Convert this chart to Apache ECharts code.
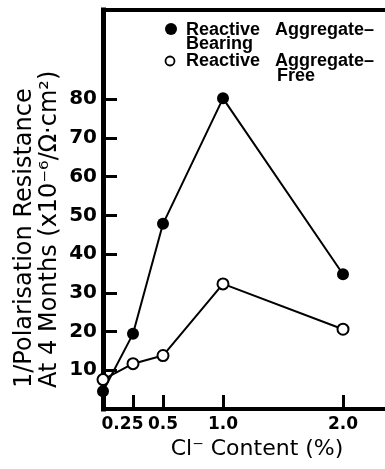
<!DOCTYPE html>
<html>
<head>
<meta charset="utf-8">
<script src="https://cdn.jsdelivr.net/npm/echarts@6.0.0/dist/echarts.min.js"></script>
<style>
    html, body { margin: 0; padding: 0; background: #fff; }
    #chart { width: 385px; height: 469px; }
</style>
</head>
<body>
<div id="chart"></div>
<script>
    // Cl- content (%)
    var clContent = [0, 0.25, 0.5, 1.0, 2.0];
    // 1/polarisation resistance at 4 months (x10^-6 / ohm.cm2)
    var bearingData = [4.6, 19.4, 47.8, 80.2, 34.8];
    var freeData = [7.6, 11.7, 13.8, 32.3, 20.6];
    // tick positions + labels
    var xTicks = [0.25, 0.5, 1.0, 2.0];
    var xTickLabels = ['0.25', '0.5', '1.0', '2.0'];
    var yTicks = [10, 20, 30, 40, 50, 60, 70, 80];

    var font = 'DejaVu Sans';
    var legendFont = 'bold 18px "Liberation Sans"';

    function toPoints(xs, ys) {
        return xs.map(function (x, i) { return [x, ys[i]]; });
    }

    function legendText(x, y, txt) {
        return {
            type: 'text', x: x, y: y,
            style: { text: txt, fill: '#000', font: legendFont, textVerticalAlign: 'middle', verticalAlign: 'middle' }
        };
    }

    var chartObj = echarts.init(document.getElementById('chart'));

    var option = {
        animation: false,
        grid: { left: 103, right: 0, top: 10, bottom: 60 },
        xAxis: [{
            type: 'value',
            min: 0,
            max: 2.35,
            splitLine: { show: false },
            axisLine: { lineStyle: { color: '#000', width: 4, cap: 'square' } },
            axisTick: {
                inside: true,
                length: 14,
                customValues: xTicks,
                lineStyle: { color: '#000', width: 3 }
            },
            axisLabel: {
                customValues: xTicks,
                margin: 7,
                formatter: function (v) {
                    var i = xTicks.indexOf(v);
                    // first label sits left of its tick in the original
                    return i === 0 ? '{f|' + xTickLabels[i] + '}' : '{n|' + xTickLabels[i] + '}';
                },
                rich: {
                    f: { fontFamily: font, fontWeight: 'bold', fontSize: 17, color: '#000', padding: [0, 21, 0, 0] },
                    n: { fontFamily: font, fontWeight: 'bold', fontSize: 17, color: '#000' }
                }
            },
            name: 'Cl\u207B Content (%)',
            nameLocation: 'middle',
            nameGap: 23,
            nameTextStyle: {
                fontFamily: font,
                fontSize: 22,
                color: '#000',
                padding: [0, 0, 0, 26]
            }
        }, {
            // top frame line
            type: 'value',
            position: 'top',
            min: 0,
            max: 2.35,
            splitLine: { show: false },
            axisLine: { onZero: false, lineStyle: { color: '#000', width: 4, cap: 'square' } },
            axisTick: { show: false },
            axisLabel: { show: false }
        }],
        yAxis: {
            type: 'value',
            min: 0,
            max: 103,
            splitLine: { show: false },
            axisLine: { lineStyle: { color: '#000', width: 5, cap: 'square' } },
            axisTick: {
                inside: true,
                length: 14,
                customValues: yTicks,
                lineStyle: { color: '#000', width: 3 }
            },
            axisLabel: {
                customValues: yTicks,
                margin: 6,
                color: '#000',
                fontFamily: font,
                fontWeight: 'bold',
                fontSize: 20
            }
        },
        graphic: [
            // y axis title, two rotated lines
            {
                type: 'text', x: 25, y: 388, rotation: Math.PI / 2,
                style: {
                    text: '1/Polarisation Resistance', fill: '#000',
                    font: '24px "DejaVu Sans"',
                    textAlign: 'left', align: 'left',
                    textVerticalAlign: 'middle', verticalAlign: 'middle'
                }
            },
            {
                type: 'text', x: 50, y: 388, rotation: Math.PI / 2,
                style: {
                    text: 'At 4 Months (x10\u207B\u2076/\u03A9\u00B7cm\u00B2)', fill: '#000',
                    font: '24px "DejaVu Sans"',
                    textAlign: 'left', align: 'left',
                    textVerticalAlign: 'middle', verticalAlign: 'middle'
                }
            },
            // legend
            { type: 'circle', shape: { cx: 171, cy: 29, r: 6 }, style: { fill: '#000' } },
            { type: 'circle', shape: { cx: 170, cy: 61, r: 4.5 }, style: { fill: '#fff', stroke: '#000', lineWidth: 1.8 } },
            legendText(186, 30, 'Reactive'),
            legendText(275, 30, 'Aggregate\u2013'),
            legendText(186, 44, 'Bearing'),
            legendText(186, 61, 'Reactive'),
            legendText(275, 61, 'Aggregate\u2013'),
            legendText(277, 76, 'Free')
        ],
        series: [{
            name: 'Reactive Aggregate-Bearing',
            type: 'line',
            clip: false,
            symbol: 'circle',
            symbolSize: 12,
            itemStyle: { color: '#000' },
            lineStyle: { color: '#000', width: 2 },
            data: toPoints(clContent, bearingData)
        }, {
            name: 'Reactive Aggregate-Free',
            type: 'line',
            clip: false,
            symbol: 'circle',
            symbolSize: 11,
            itemStyle: { color: '#fff', borderColor: '#000', borderWidth: 2 },
            lineStyle: { color: '#000', width: 2 },
            data: toPoints(clContent, freeData)
        }]
    };

    chartObj.setOption(option, true);
</script>
</body>
</html>
